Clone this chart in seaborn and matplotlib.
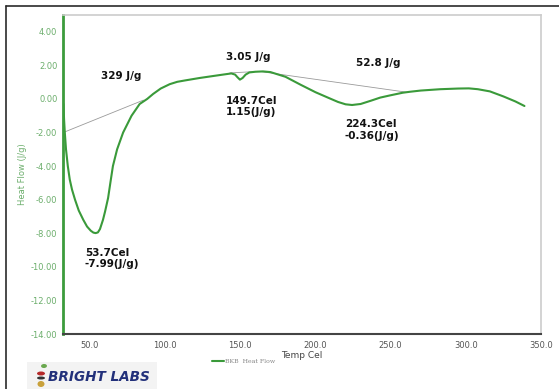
import numpy as np
import pandas as pd
import matplotlib
matplotlib.use("Agg")
import matplotlib.pyplot as plt
from matplotlib.lines import Line2D
from matplotlib.patches import Rectangle, Ellipse
import seaborn as sns

# DSC heat-flow trace
temp_c = [32.3, 32.7, 33.2, 34.0, 35.2, 36.5, 38.0, 40.0, 42.5, 45.5, 48.0, 50.5,
          52.2, 53.7, 55.2, 56.6, 58.6, 60.0, 62.0, 63.5, 65.2, 68.0, 72.0, 77.6,
          83.0, 88.0, 92.0, 97.0, 103.0, 108.0, 113.0, 123.0, 133.0, 140.0, 144.0,
          146.5, 148.0, 149.7, 151.5, 153.5, 156.0, 160.0, 165.0, 170.0, 180.0,
          190.0, 200.0, 209.0, 215.0, 220.0, 224.3, 230.0, 237.0, 243.0, 250.0,
          258.0, 263.0, 270.0, 283.0, 295.0, 302.0, 308.0, 316.0, 325.0, 333.0, 339.0]
heat_flow = [-0.3, -1.2, -2.0, -3.0, -4.0, -4.8, -5.4, -6.0, -6.65, -7.2, -7.6, -7.85,
             -7.96, -7.99, -7.95, -7.75, -7.2, -6.7, -5.9, -5.0, -4.0, -3.0, -2.0, -1.0,
             -0.3, 0.0, 0.3, 0.62, 0.88, 1.02, 1.1, 1.25, 1.38, 1.47, 1.52,
             1.45, 1.3, 1.15, 1.25, 1.45, 1.58, 1.62, 1.64, 1.6, 1.32,
             0.85, 0.4, 0.05, -0.18, -0.32, -0.36, -0.3, -0.1, 0.08, 0.22,
             0.37, 0.43, 0.5, 0.58, 0.62, 0.63, 0.58, 0.45, 0.15, -0.15, -0.42]

# integration baselines (start/end temperature and heat flow)
base_temp = [(33.0, 85.5), (143.0, 161.7), (164.3, 260.7)]
base_flow = [(-1.97, -0.07), (1.55, 1.64), (1.62, 0.40)]

# peak / area annotations: (temperature, heat flow, text)
area_labels = [(57.3, 1.37, "329 J/g"), (140.4, 2.5, "3.05 J/g"), (226.6, 2.12, "52.8 J/g")]
peak_labels = [(46.6, -8.85, "53.7Cel\n-7.99(J/g)"),
               (140.4, 0.2, "149.7Cel\n1.15(J/g)"),
               (219.5, -1.22, "224.3Cel\n-0.36(J/g)")]

y_ticks = [-14, -12, -10, -8, -6, -4, -2, 0, 2, 4]
x_ticks = [50, 100, 150, 200, 250, 300, 350]

GREEN = "#3a9a3a"
AXGREEN = "#3c9c3c"
TICKGREEN = "#6cae6c"

sns.set_style("white")
plt.rcParams["font.family"] = ["DejaVu Sans"]

fig = plt.figure(figsize=(5.59, 3.89), dpi=100)
ax = fig.add_axes([63 / 559, 1 - 334 / 389, (541 - 63) / 559, (334 - 15) / 389])

df = pd.DataFrame({"Temp Cel": temp_c, "Heat Flow": heat_flow})
sns.lineplot(data=df, x="Temp Cel", y="Heat Flow", ax=ax, color=GREEN, lw=1.5,
             sort=False, label="BKB  Heat Flow")

for (t0, t1), (h0, h1) in zip(base_temp, base_flow):
    ax.plot([t0, t1], [h0, h1], color="#9a9a9a", lw=0.6, zorder=1)

for t, h, s in area_labels:
    ax.text(t, h, s, fontsize=7.5, fontweight="bold", color="#111111", va="center", ha="left")
for t, h, s in peak_labels:
    ax.text(t, h, s, fontsize=7.5, fontweight="bold", color="#111111", va="top", ha="left",
            linespacing=1.15)

ax.set_xlim(32, 350)
ax.set_ylim(-14, 5)
ax.set_xticks(x_ticks)
ax.set_yticks(y_ticks)
ax.set_xticklabels([f"{v:.1f}" for v in x_ticks])
ax.set_yticklabels([f"{v:.2f}" for v in y_ticks])

ax.tick_params(axis="x", direction="in", length=4, width=1.5, color="#333333",
               labelsize=6, labelcolor="#555555", pad=5)
ax.tick_params(axis="y", direction="in", length=5, width=1.3, color=AXGREEN,
               labelsize=6, labelcolor=TICKGREEN, pad=4)

ax.spines["left"].set_color(AXGREEN)
ax.spines["left"].set_linewidth(2.0)
ax.spines["bottom"].set_color("#444444")
ax.spines["bottom"].set_linewidth(1.5)
for side in ("top", "right"):
    ax.spines[side].set_color("#cccccc")
    ax.spines[side].set_linewidth(1.2)

ax.set_xlabel("Temp Cel", fontsize=6.5, color="#444444", labelpad=1)
ax.set_ylabel("Heat Flow (J/g)", fontsize=6, color=TICKGREEN, labelpad=3)

leg = ax.legend(loc="center left", bbox_to_anchor=(209 / 559, 1 - 361 / 389),
                bbox_transform=fig.transFigure, frameon=False, fontsize=4.5,
                handlelength=2.0, handletextpad=0.2, borderaxespad=0)
for txt in leg.get_texts():
    txt.set_color("#888888")
    txt.set_family("DejaVu Serif")

# outer frame
fig.add_artist(Line2D([6 / 559, 1.0], [1 - 6 / 389, 1 - 6 / 389], transform=fig.transFigure,
                      color="#2a2a2a", lw=1.2))
fig.add_artist(Line2D([6 / 559, 6 / 559], [0, 1 - 6 / 389], transform=fig.transFigure,
                      color="#2a2a2a", lw=1.2))

# logo
fig.add_artist(Rectangle((27 / 559, 0), 130 / 559, 27 / 389, transform=fig.transFigure,
                         facecolor="#f3f3f3", edgecolor="none"))
fig.text(48 / 559, 1 - 377 / 389, "BRIGHT LABS", fontsize=9.8, fontweight="bold",
         fontstyle="italic", color="#22307a", va="center", ha="left")
fig.add_artist(Ellipse((44 / 559, 1 - 366 / 389), 6 / 559, 4 / 389, angle=30,
                       transform=fig.transFigure, facecolor="#6aa84f", edgecolor="none"))
fig.add_artist(Ellipse((41 / 559, 1 - 373.5 / 389), 8 / 559, 4 / 389,
                       transform=fig.transFigure, facecolor="#b52a2a", edgecolor="none"))
fig.add_artist(Ellipse((41 / 559, 1 - 378 / 389), 8 / 559, 3 / 389,
                       transform=fig.transFigure, facecolor="#333333", edgecolor="none"))
fig.add_artist(Ellipse((41 / 559, 1 - 384 / 389), 7 / 559, 6 / 389,
                       transform=fig.transFigure, facecolor="#c9a13b", edgecolor="none"))

fig.savefig("out.png", dpi=100)
